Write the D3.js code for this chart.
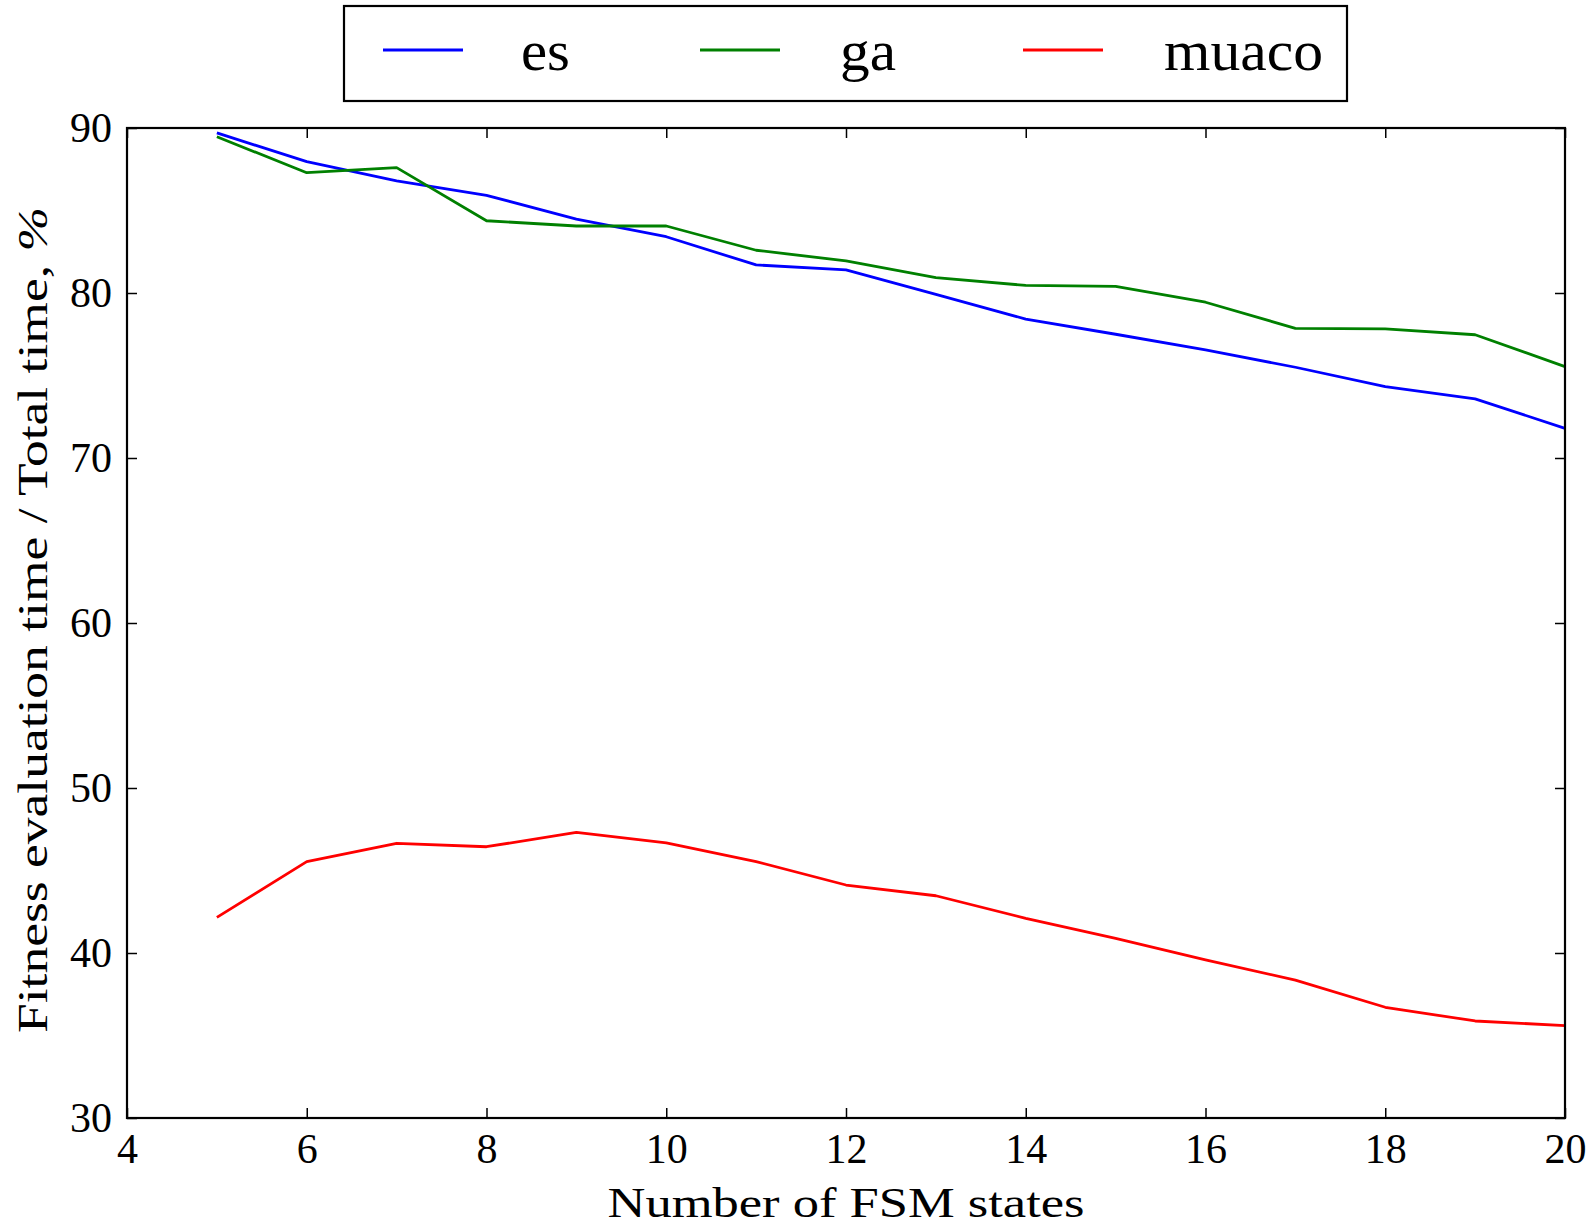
<!DOCTYPE html>
<html>
<head>
<meta charset="utf-8">
<script src="https://cdn.jsdelivr.net/npm/d3@7"></script>
<style>
    body { margin: 0; background: #fff; }
    text { font-family: "Liberation Serif", "DejaVu Serif", serif; fill: #000; }
</style>
</head>
<body>
<svg id="chart" width="1594" height="1225"></svg>
<script>
'use strict';

// number of FSM states
let states = [5, 6, 7, 8, 9, 10, 11, 12, 13, 14, 15, 16, 17, 18, 19, 20];

// fitness evaluation time share, %
let esValues = [89.7, 87.96, 86.8, 85.92, 84.48, 83.41, 81.7, 81.4, 79.92, 78.42, 77.5, 76.55, 75.5, 74.32, 73.58, 71.8];
let gaValues = [89.47, 87.29, 87.6, 84.38, 84.06, 84.06, 82.59, 81.95, 80.93, 80.46, 80.4, 79.44, 77.86, 77.82, 77.47, 75.54];
let muacoValues = [42.16, 45.54, 46.65, 46.44, 47.31, 46.67, 45.54, 44.12, 43.47, 42.1, 40.89, 39.58, 38.36, 36.71, 35.88, 35.6];

let seriesNames = ["es", "ga", "muaco"];
let seriesColors = ["#0000ff", "#008000", "#ff0000"];

let xTicks = [4, 6, 8, 10, 12, 14, 16, 18, 20];
let yTicks = [30, 40, 50, 60, 70, 80, 90];

let margin = {top: 128, right: 29, bottom: 107, left: 127},
    width = 1594 - margin.left - margin.right,
    height = 1225 - margin.top - margin.bottom;

let svg = d3.select("#chart");

let x = d3.scaleLinear().domain([4, 20]).range([0, width]);
let y = d3.scaleLinear().domain([30, 90]).range([height, 0]);

let g = svg.append("g")
    .attr("transform", "translate(" + margin.left + "," + margin.top + ")");

let series = seriesNames.map(function(name, i) {
    let vals = [esValues, gaValues, muacoValues][i];
    return {
        name: name,
        color: seriesColors[i],
        points: states.map(function(s, j) { return {x: s, y: vals[j]}; })
    };
});

let line = d3.line()
    .x(function(d) { return x(d.x); })
    .y(function(d) { return y(d.y); });

g.append("g")
    .attr("class", "lines")
    .selectAll("path")
    .data(series)
    .enter().append("path")
    .attr("fill", "none")
    .attr("stroke", function(d) { return d.color; })
    .attr("stroke-width", 2.8)
    .attr("stroke-linejoin", "round")
    .attr("d", function(d) { return line(d.points); });

// axes: ticks pointing inward, matplotlib classic look
function styleAxis(sel) {
    sel.select(".domain").remove();
    sel.selectAll(".tick line").attr("stroke", "#000").attr("stroke-width", 1.5);
    sel.selectAll(".tick text").attr("font-size", 42).attr("font-family", null);
}

g.append("g")
    .attr("transform", "translate(0," + height + ")")
    .call(d3.axisBottom(x).tickValues(xTicks).tickSizeInner(-10).tickSizeOuter(0).tickPadding(15))
    .call(styleAxis);

g.append("g")
    .call(d3.axisLeft(y).tickValues(yTicks).tickSizeInner(-10).tickSizeOuter(0).tickPadding(15))
    .call(styleAxis);

g.append("g")
    .call(d3.axisTop(x).tickValues(xTicks).tickSizeInner(-10).tickSizeOuter(0).tickFormat(""))
    .call(styleAxis);

g.append("g")
    .attr("transform", "translate(" + width + ",0)")
    .call(d3.axisRight(y).tickValues(yTicks).tickSizeInner(-10).tickSizeOuter(0).tickFormat(""))
    .call(styleAxis);

g.append("rect")
    .attr("width", width)
    .attr("height", height)
    .attr("fill", "none")
    .attr("stroke", "#000")
    .attr("stroke-width", 2.2);

// axis labels
svg.append("text")
    .attr("x", margin.left + width / 2)
    .attr("y", 1217)
    .attr("text-anchor", "middle")
    .attr("font-size", 43)
    .attr("textLength", 477)
    .attr("lengthAdjust", "spacingAndGlyphs")
    .text("Number of FSM states");

let yLabel = svg.append("text")
    .attr("transform", "translate(47," + 620 + ") rotate(-90)")
    .attr("text-anchor", "middle")
    .attr("font-size", 43)
    .attr("textLength", 826)
    .attr("lengthAdjust", "spacingAndGlyphs");
yLabel.append("tspan").text("Fitness evaluation time / Total time, ");
yLabel.append("tspan").attr("font-style", "italic").text("%");

// legend
let legend = svg.append("g").attr("class", "legend");

legend.append("rect")
    .attr("x", 344)
    .attr("y", 6)
    .attr("width", 1003)
    .attr("height", 95)
    .attr("fill", "#fff")
    .attr("stroke", "#000")
    .attr("stroke-width", 2.2);

let legendLineX = [383, 700, 1023],
    legendTextX = [521, 840, 1164],
    legendTextW = [49, 56, 159];

let item = legend.selectAll(".item")
    .data(series)
    .enter().append("g")
    .attr("class", "item");

item.append("line")
    .attr("x1", function(d, i) { return legendLineX[i]; })
    .attr("x2", function(d, i) { return legendLineX[i] + 80; })
    .attr("y1", 50)
    .attr("y2", 50)
    .attr("stroke", function(d) { return d.color; })
    .attr("stroke-width", 2.8);

item.append("text")
    .attr("x", function(d, i) { return legendTextX[i]; })
    .attr("y", 70)
    .attr("font-size", 58)
    .attr("textLength", function(d, i) { return legendTextW[i]; })
    .attr("lengthAdjust", "spacingAndGlyphs")
    .text(function(d) { return d.name; });
</script>
</body>
</html>
